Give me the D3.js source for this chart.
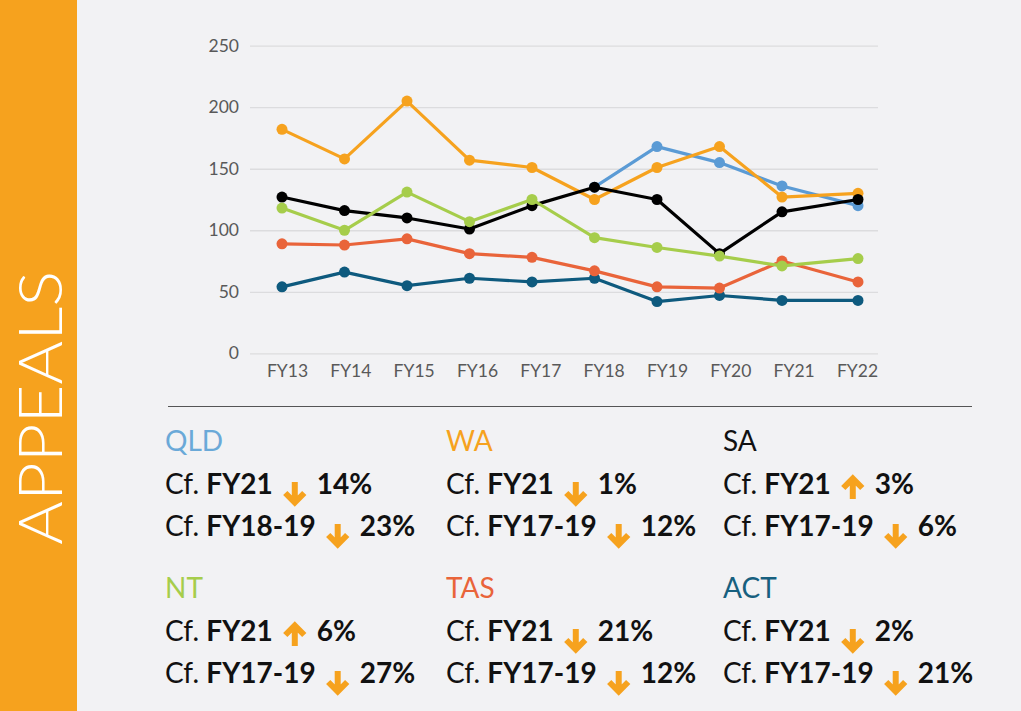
<!DOCTYPE html>
<html>
<head>
<meta charset="utf-8">
<script src="https://cdn.jsdelivr.net/npm/d3@7"></script>
<style>
  html, body { margin: 0; padding: 0; background: #f2f2f4; }
  svg { display: block; font-family: Lato, "Open Sans", sans-serif; }
</style>
</head>
<body>
<div id="chart"></div>
<script>
// data
const years = ['FY13', 'FY14', 'FY15', 'FY16', 'FY17', 'FY18', 'FY19', 'FY20', 'FY21', 'FY22'];
const yTicks = [0, 50, 100, 150, 200, 250];

const qld = [null, null, null, null, null, 135, 168, 155, 136, 120];
const wa  = [182, 158, 205, 157, 151, 125, 151, 168, 127, 130];
const act = [54, 66, 55, 61, 58, 61, 42, 47, 43, 43];
const tas = [89, 88, 93, 81, 78, 67, 54, 53, 75, 58];
const sa  = [127, 116, 110, 101, 120, 135, 125, 81, 115, 125];
const nt  = [118, 100, 131, 107, 125, 94, 86, 79, 71, 77];

// text blocks under the chart
const blockStates = ['QLD', 'WA', 'SA', 'NT', 'TAS', 'ACT'];
const periodA = ['FY21', 'FY21', 'FY21', 'FY21', 'FY21', 'FY21'];
const changeA = [-14, -1, 3, 6, -21, -2];
const periodB = ['FY18-19', 'FY17-19', 'FY17-19', 'FY17-19', 'FY17-19', 'FY17-19'];
const changeB = [-23, -12, -6, -27, -12, -21];

const colors = {
    QLD: '#5b9bd5',
    WA: '#f6a21e',
    SA: '#000000',
    NT: '#a6cd4b',
    TAS: '#e9643a',
    ACT: '#0e5a7e'
};
const headColors = {
    QLD: '#6aa9d8',
    WA: '#f6a21e',
    SA: '#111111',
    NT: '#a6cd4b',
    TAS: '#e9643a',
    ACT: '#17607f'
};
const orange = '#f6a21e';

// drawing order matters: later ones sit on top
const series = [
    { name: 'QLD', values: qld },
    { name: 'WA', values: wa },
    { name: 'ACT', values: act },
    { name: 'TAS', values: tas },
    { name: 'SA', values: sa },
    { name: 'NT', values: nt }
];

const W = 1021, H = 711;

const svg = d3.select('#chart')
    .append('svg')
    .attr('width', W)
    .attr('height', H);

svg.append('rect').attr('width', W).attr('height', H).attr('fill', '#f2f2f4');

// orange side band
svg.append('rect')
    .attr('x', 0).attr('y', 0)
    .attr('width', 77).attr('height', H)
    .attr('fill', orange);

svg.append('text')
    .attr('transform', 'translate(62,408) rotate(-90)')
    .attr('text-anchor', 'middle')
    .attr('fill', '#ffffff')
    .attr('textLength', 274)
    .attr('lengthAdjust', 'spacingAndGlyphs')
    .style('font-size', '61px')
    .style('font-weight', 300)
    .text('APPEALS');

// scales
const yScale = d3.scaleLinear().domain([0, 250]).range([353.3, 45.7]);
// points sit a little off the label centres, last one further right
const xPoint = d3.scaleLinear().domain([0, 8, 9]).range([282, 782, 858]);
const xLabel = d3.scalePoint().domain(years).range([287, 857]);

// grid + y labels
const yAxis = d3.axisLeft(yScale)
    .tickValues(yTicks)
    .tickSize(-628)
    .tickPadding(11);

const yAxisGroup = svg.append('g')
    .attr('class', 'y-axis')
    .attr('transform', 'translate(250,0)')
    .call(yAxis);
yAxisGroup.select('.domain').remove();
yAxisGroup.selectAll('line').attr('stroke', '#dcdcde').attr('stroke-width', 1.3);
yAxisGroup.selectAll('text')
    .attr('fill', '#595959')
    .style('font-size', '17.5px')
    .style('font-family', 'Lato, sans-serif');

// x labels
const xAxis = d3.axisBottom(xLabel).tickSize(0).tickPadding(0);
const xAxisGroup = svg.append('g')
    .attr('class', 'x-axis')
    .attr('transform', 'translate(0,365)')
    .call(xAxis);
xAxisGroup.select('.domain').remove();
xAxisGroup.selectAll('text')
    .attr('fill', '#595959')
    .style('font-size', '17.5px')
    .style('font-family', 'Lato, sans-serif');

// lines
const line = d3.line()
    .defined(d => d != null)
    .x((d, i) => xPoint(i))
    .y(d => yScale(d));

series.forEach(s => {
    const g = svg.append('g').attr('class', 'series ' + s.name);
    g.append('path')
        .datum(s.values)
        .attr('fill', 'none')
        .attr('stroke', colors[s.name])
        .attr('stroke-width', 3.2)
        .attr('stroke-linejoin', 'round')
        .attr('d', line);
    g.selectAll('circle')
        .data(s.values.map((v, i) => [i, v]).filter(d => d[1] != null))
        .enter()
        .append('circle')
        .attr('cx', d => xPoint(d[0]))
        .attr('cy', d => yScale(d[1]))
        .attr('r', 5.5)
        .attr('fill', colors[s.name]);
});

// separator
svg.append('line')
    .attr('x1', 168).attr('x2', 972)
    .attr('y1', 406.5).attr('y2', 406.5)
    .attr('stroke', '#555555')
    .attr('stroke-width', 1.2);

// text blocks
const colX = [165, 446, 723];
const rowY = [451, 598];

// thick arrow glyph, drawn around its own centre line
function arrow(g, x, y, down) {
    const d = down
        ? 'M0,-12V8M-9.5,-1L0,8.5L9.5,-1'
        : 'M0,5V-15M-9.5,-6L0,-15.5L9.5,-6';
    g.append('path')
        .attr('transform', 'translate(' + x + ',' + y + ')')
        .attr('d', d)
        .attr('fill', 'none')
        .attr('stroke', orange)
        .attr('stroke-width', 6)
        .attr('stroke-linejoin', 'miter');
}

function statLine(g, y, period, change) {
    const t = g.append('text')
        .attr('x', 0)
        .attr('y', y)
        .attr('fill', '#111111')
        .style('font-size', '28px');
    t.append('tspan').text('Cf. ');
    t.append('tspan').style('font-weight', 700).text(period);
    const w = t.node().getComputedTextLength();
    const ax = w + 22;
    arrow(g, ax, y, change < 0);
    g.append('text')
        .attr('x', ax + 22)
        .attr('y', y)
        .attr('fill', '#111111')
        .style('font-size', '28px')
        .style('font-weight', 700)
        .text(Math.abs(change) + '%');
}

blockStates.forEach((name, i) => {
    const g = svg.append('g')
        .attr('transform', 'translate(' + colX[i % 3] + ',' + rowY[Math.floor(i / 3)] + ')');
    g.append('text')
        .attr('x', 0).attr('y', 0)
        .attr('fill', headColors[name])
        .style('font-size', '28px')
        .text(name);
    statLine(g, 43, periodA[i], changeA[i]);
    statLine(g, 85, periodB[i], changeB[i]);
});
</script>
</body>
</html>
